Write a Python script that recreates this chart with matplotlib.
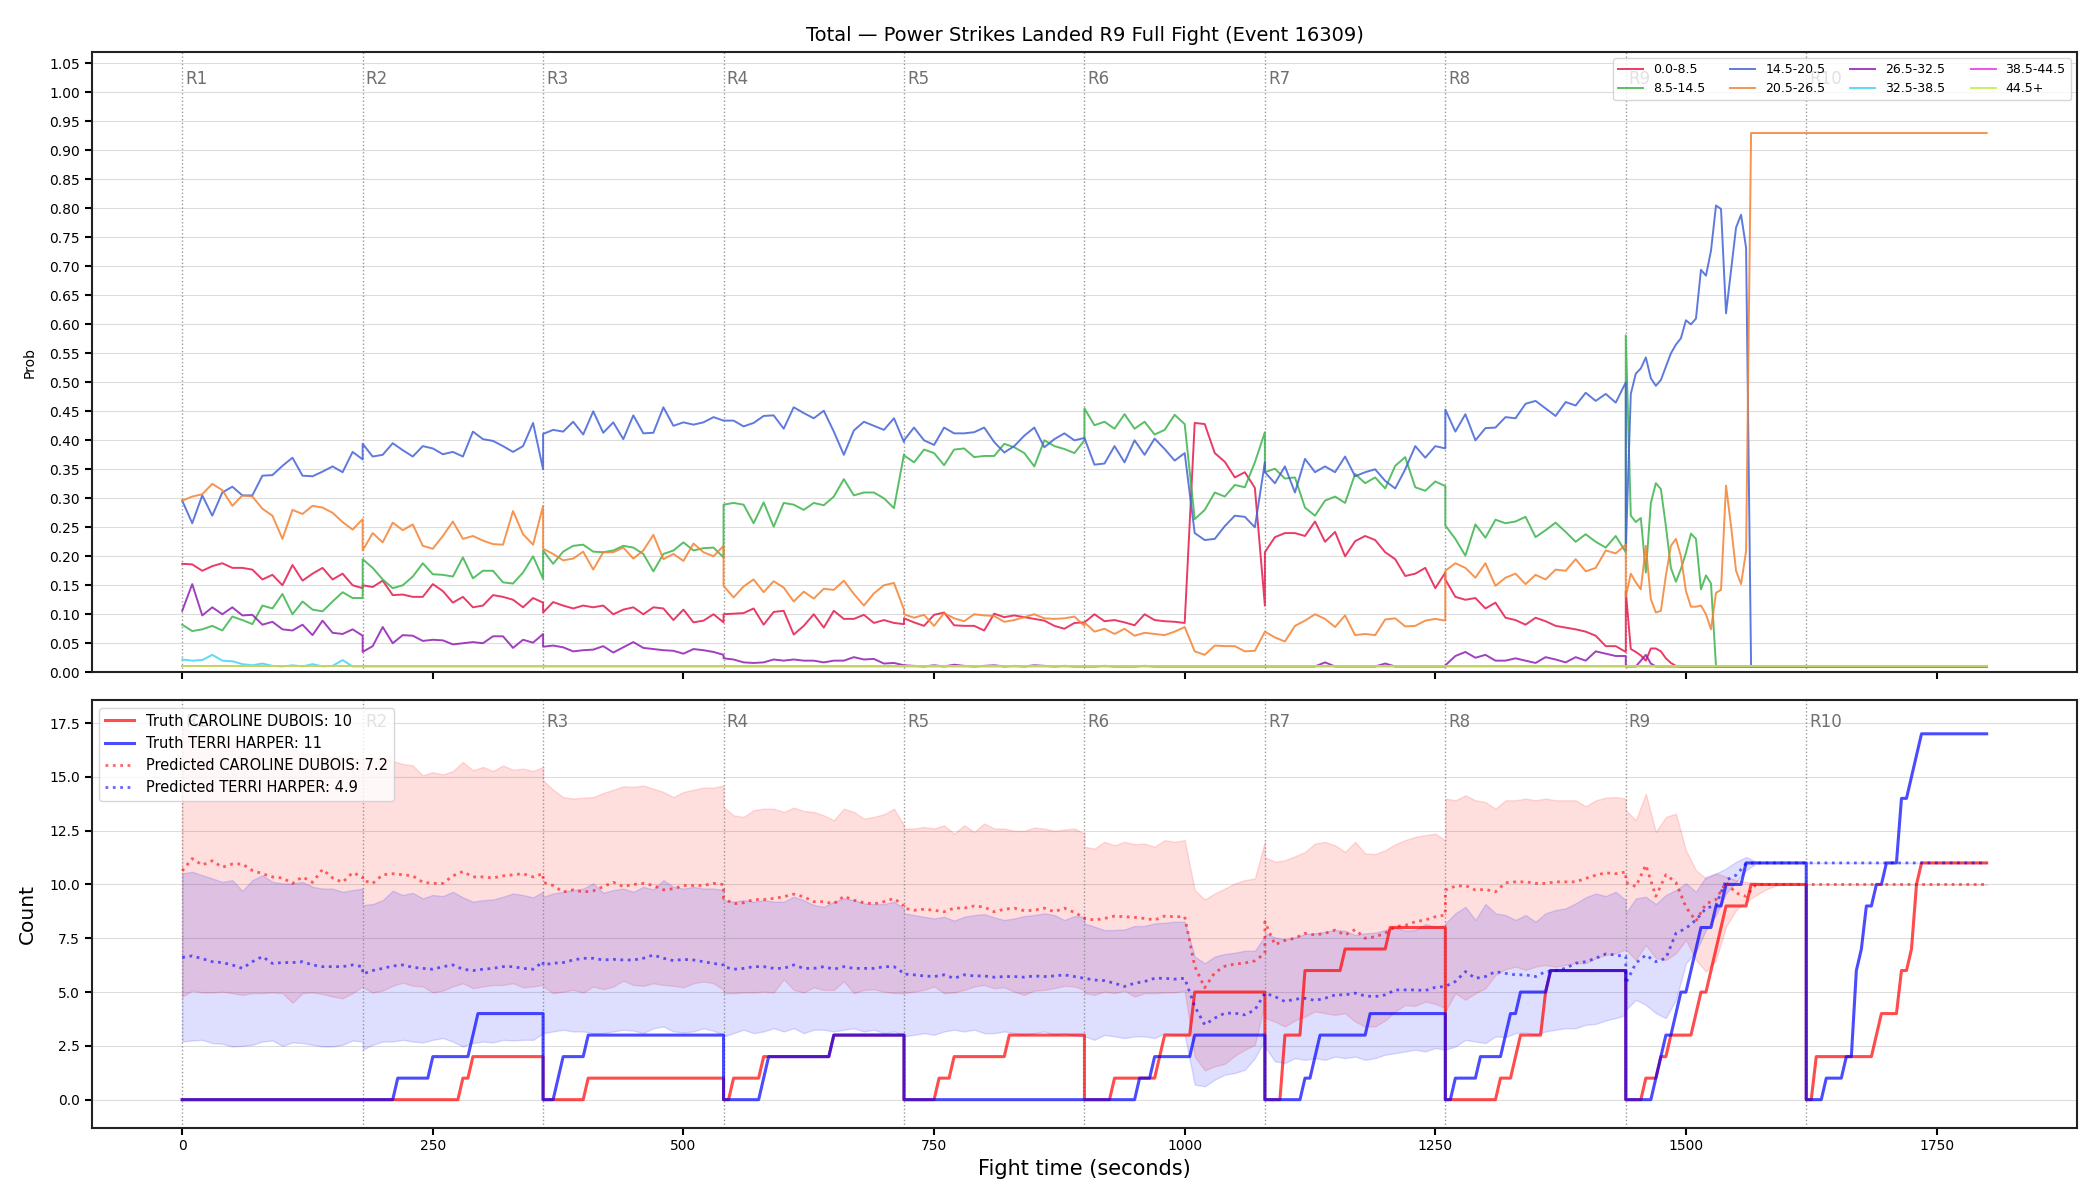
import numpy as np
import matplotlib
matplotlib.use("Agg")
import matplotlib.pyplot as plt
from matplotlib.ticker import MultipleLocator

ROUND_LEN = 180
N_ROUNDS = 10
FIGHT_END = 1800
STEP = 10      # the per-round lists below are read every 10 s
R9_STEP = 5    # round 9 of the top panel is read every 5 s

TITLE = "Total \u2014 Power Strikes Landed R9 Full Fight (Event 16309)"
BUCKETS = ["0.0-8.5", "8.5-14.5", "14.5-20.5", "20.5-26.5",
           "26.5-32.5", "32.5-38.5", "38.5-44.5", "44.5+"]
BUCKET_COLORS = ["#e6194b", "#3cb44b", "#4363d8", "#f58231",
                 "#911eb4", "#42d4f4", "#f032e6", "#bfef45"]
PROB_FLOOR = 0.01

# ---- top panel: probability per bucket, rounds 1-8 (19 samples each) ----
prob_0_8 = [
    [0.187, 0.186, 0.175, 0.183, 0.188, 0.180, 0.180, 0.177, 0.160, 0.168, 0.150, 0.185, 0.158, 0.170, 0.180, 0.160, 0.170, 0.150, 0.145],
    [0.150, 0.147, 0.158, 0.133, 0.134, 0.130, 0.130, 0.152, 0.140, 0.120, 0.130, 0.112, 0.115, 0.133, 0.130, 0.125, 0.112, 0.128, 0.120],
    [0.103, 0.121, 0.115, 0.110, 0.115, 0.112, 0.115, 0.100, 0.108, 0.112, 0.100, 0.112, 0.110, 0.090, 0.108, 0.086, 0.089, 0.100, 0.086],
    [0.100, 0.101, 0.102, 0.110, 0.082, 0.104, 0.106, 0.065, 0.080, 0.100, 0.077, 0.106, 0.092, 0.092, 0.099, 0.085, 0.090, 0.085, 0.083],
    [0.093, 0.086, 0.080, 0.099, 0.103, 0.081, 0.080, 0.080, 0.072, 0.101, 0.095, 0.098, 0.095, 0.092, 0.089, 0.080, 0.075, 0.085, 0.086],
    [0.086, 0.100, 0.088, 0.090, 0.086, 0.081, 0.100, 0.090, 0.088, 0.087, 0.085, 0.430, 0.428, 0.378, 0.363, 0.336, 0.345, 0.318, 0.115],
    [0.207, 0.233, 0.240, 0.240, 0.235, 0.260, 0.225, 0.242, 0.200, 0.226, 0.235, 0.228, 0.207, 0.195, 0.166, 0.170, 0.180, 0.145, 0.172],
    [0.160, 0.130, 0.125, 0.128, 0.110, 0.120, 0.094, 0.090, 0.082, 0.094, 0.088, 0.080, 0.077, 0.074, 0.070, 0.063, 0.045, 0.045, 0.035],
]
prob_8_14 = [
    [0.082, 0.071, 0.074, 0.080, 0.072, 0.096, 0.090, 0.083, 0.115, 0.110, 0.135, 0.100, 0.122, 0.108, 0.105, 0.122, 0.138, 0.128, 0.128],
    [0.195, 0.180, 0.160, 0.145, 0.150, 0.165, 0.188, 0.169, 0.168, 0.165, 0.198, 0.162, 0.175, 0.175, 0.155, 0.153, 0.172, 0.200, 0.161],
    [0.210, 0.187, 0.208, 0.218, 0.220, 0.208, 0.207, 0.210, 0.218, 0.215, 0.204, 0.174, 0.204, 0.210, 0.224, 0.210, 0.214, 0.215, 0.198],
    [0.289, 0.292, 0.289, 0.257, 0.293, 0.251, 0.292, 0.289, 0.280, 0.292, 0.288, 0.303, 0.333, 0.305, 0.310, 0.310, 0.300, 0.283, 0.376],
    [0.374, 0.362, 0.384, 0.378, 0.357, 0.384, 0.386, 0.371, 0.373, 0.373, 0.394, 0.388, 0.378, 0.355, 0.400, 0.390, 0.385, 0.378, 0.400],
    [0.455, 0.426, 0.432, 0.420, 0.445, 0.420, 0.432, 0.410, 0.418, 0.444, 0.428, 0.264, 0.280, 0.310, 0.303, 0.323, 0.319, 0.362, 0.414],
    [0.345, 0.351, 0.334, 0.336, 0.284, 0.270, 0.296, 0.303, 0.292, 0.342, 0.326, 0.336, 0.317, 0.356, 0.371, 0.319, 0.313, 0.329, 0.321],
    [0.253, 0.230, 0.201, 0.255, 0.232, 0.263, 0.257, 0.260, 0.268, 0.233, 0.245, 0.258, 0.242, 0.225, 0.238, 0.225, 0.215, 0.235, 0.207],
]
prob_14_20 = [
    [0.296, 0.257, 0.305, 0.270, 0.310, 0.320, 0.305, 0.305, 0.339, 0.340, 0.356, 0.370, 0.339, 0.338, 0.346, 0.355, 0.345, 0.380, 0.367],
    [0.394, 0.372, 0.375, 0.395, 0.383, 0.372, 0.390, 0.386, 0.376, 0.380, 0.372, 0.415, 0.402, 0.399, 0.390, 0.380, 0.390, 0.430, 0.350],
    [0.411, 0.418, 0.415, 0.432, 0.410, 0.450, 0.413, 0.431, 0.402, 0.443, 0.412, 0.413, 0.457, 0.425, 0.431, 0.427, 0.431, 0.440, 0.434],
    [0.434, 0.434, 0.424, 0.430, 0.442, 0.443, 0.420, 0.457, 0.447, 0.438, 0.451, 0.415, 0.375, 0.417, 0.432, 0.425, 0.418, 0.438, 0.397],
    [0.400, 0.422, 0.400, 0.392, 0.422, 0.412, 0.412, 0.414, 0.422, 0.397, 0.379, 0.390, 0.408, 0.422, 0.388, 0.402, 0.412, 0.400, 0.404],
    [0.404, 0.358, 0.360, 0.390, 0.362, 0.400, 0.375, 0.403, 0.385, 0.365, 0.378, 0.240, 0.228, 0.230, 0.252, 0.270, 0.268, 0.250, 0.362],
    [0.345, 0.326, 0.355, 0.310, 0.368, 0.345, 0.355, 0.345, 0.372, 0.338, 0.345, 0.350, 0.330, 0.317, 0.350, 0.390, 0.370, 0.390, 0.386],
    [0.453, 0.415, 0.445, 0.400, 0.421, 0.422, 0.440, 0.438, 0.463, 0.468, 0.455, 0.442, 0.466, 0.460, 0.482, 0.468, 0.480, 0.465, 0.500],
]
prob_20_26 = [
    [0.296, 0.303, 0.307, 0.325, 0.314, 0.287, 0.305, 0.303, 0.282, 0.270, 0.230, 0.280, 0.273, 0.287, 0.284, 0.275, 0.259, 0.246, 0.264],
    [0.210, 0.240, 0.224, 0.258, 0.245, 0.255, 0.218, 0.213, 0.235, 0.260, 0.230, 0.235, 0.227, 0.221, 0.220, 0.278, 0.238, 0.220, 0.287],
    [0.213, 0.204, 0.193, 0.196, 0.208, 0.177, 0.207, 0.207, 0.215, 0.196, 0.210, 0.237, 0.195, 0.204, 0.192, 0.222, 0.207, 0.200, 0.218],
    [0.149, 0.129, 0.148, 0.160, 0.138, 0.157, 0.146, 0.122, 0.139, 0.127, 0.144, 0.142, 0.158, 0.135, 0.115, 0.136, 0.150, 0.154, 0.108],
    [0.100, 0.094, 0.099, 0.080, 0.102, 0.093, 0.088, 0.100, 0.098, 0.097, 0.087, 0.090, 0.095, 0.100, 0.093, 0.092, 0.093, 0.096, 0.080],
    [0.086, 0.070, 0.075, 0.066, 0.075, 0.063, 0.068, 0.066, 0.064, 0.070, 0.078, 0.036, 0.030, 0.046, 0.045, 0.045, 0.036, 0.037, 0.070],
    [0.070, 0.060, 0.053, 0.080, 0.089, 0.100, 0.092, 0.078, 0.098, 0.064, 0.066, 0.064, 0.091, 0.093, 0.079, 0.080, 0.089, 0.092, 0.089],
    [0.175, 0.188, 0.180, 0.163, 0.188, 0.149, 0.163, 0.170, 0.152, 0.168, 0.160, 0.177, 0.175, 0.195, 0.174, 0.180, 0.210, 0.205, 0.220],
]
prob_26_32 = [
    [0.106, 0.152, 0.098, 0.112, 0.100, 0.112, 0.098, 0.099, 0.082, 0.087, 0.074, 0.072, 0.082, 0.064, 0.089, 0.068, 0.066, 0.074, 0.063],
    [0.035, 0.045, 0.078, 0.050, 0.064, 0.063, 0.054, 0.056, 0.055, 0.048, 0.050, 0.052, 0.050, 0.062, 0.062, 0.042, 0.056, 0.051, 0.066],
    [0.044, 0.046, 0.043, 0.036, 0.038, 0.039, 0.045, 0.034, 0.043, 0.052, 0.042, 0.040, 0.038, 0.037, 0.032, 0.040, 0.038, 0.035, 0.030],
    [0.024, 0.022, 0.017, 0.016, 0.017, 0.022, 0.020, 0.022, 0.020, 0.020, 0.017, 0.020, 0.020, 0.026, 0.022, 0.023, 0.015, 0.016, 0.012],
    [0.012, 0.011, 0.010, 0.012, 0.010, 0.013, 0.011, 0.010, 0.011, 0.012, 0.010, 0.011, 0.010, 0.012, 0.011, 0.010, 0.011, 0.010, 0.010],
    [0.010, 0.010, 0.011, 0.010, 0.010, 0.010, 0.011, 0.010, 0.010, 0.010, 0.010, 0.010, 0.010, 0.010, 0.010, 0.010, 0.010, 0.010, 0.010],
    [0.010, 0.010, 0.010, 0.010, 0.010, 0.010, 0.017, 0.010, 0.010, 0.010, 0.010, 0.010, 0.015, 0.010, 0.010, 0.010, 0.010, 0.010, 0.010],
    [0.012, 0.028, 0.035, 0.025, 0.030, 0.020, 0.020, 0.024, 0.020, 0.016, 0.026, 0.022, 0.017, 0.026, 0.020, 0.036, 0.032, 0.028, 0.028],
]
prob_32_38_r1 = [0.022, 0.020, 0.021, 0.030, 0.020, 0.019, 0.014, 0.012, 0.015, 0.011,
                 0.010, 0.012, 0.010, 0.014, 0.010, 0.011, 0.021, 0.010, 0.010]

# round 9, every 5 s, until the distribution collapses onto 20.5-26.5
prob_0_8_r9 = [0.140, 0.040, 0.035, 0.029, 0.020, 0.041, 0.041, 0.036, 0.024, 0.016, 0.011, 0.010, 0.010,
               0.010, 0.010, 0.010, 0.010, 0.010, 0.010, 0.010, 0.010, 0.010, 0.010, 0.010, 0.010, 0.010]
prob_8_14_r9 = [0.581, 0.270, 0.259, 0.266, 0.172, 0.292, 0.326, 0.316, 0.252, 0.180, 0.156, 0.178, 0.206,
                0.239, 0.230, 0.143, 0.167, 0.153, 0.010, 0.010, 0.010, 0.010, 0.010, 0.010, 0.010, 0.010]
prob_14_20_r9 = [0.210, 0.480, 0.515, 0.524, 0.543, 0.507, 0.494, 0.504, 0.527, 0.550, 0.565, 0.576, 0.607,
                 0.600, 0.610, 0.694, 0.684, 0.727, 0.805, 0.799, 0.619, 0.693, 0.767, 0.789, 0.732, 0.010]
prob_20_26_r9 = [0.130, 0.170, 0.155, 0.143, 0.218, 0.126, 0.103, 0.106, 0.167, 0.218, 0.230, 0.200, 0.140,
                 0.113, 0.113, 0.115, 0.100, 0.074, 0.137, 0.142, 0.322, 0.252, 0.175, 0.152, 0.209, 0.930]
prob_26_32_r9 = [0.010, 0.010, 0.010, 0.020, 0.030, 0.015, 0.010, 0.010, 0.010, 0.010, 0.010, 0.010, 0.010,
                 0.010, 0.010, 0.010, 0.010, 0.010, 0.010, 0.010, 0.010, 0.010, 0.010, 0.010, 0.010, 0.010]

# ---- bottom panel ----
FIGHTERS = ["CAROLINE DUBOIS", "TERRI HARPER"]
TRUTH_TOTALS = [10, 11]
PRED_TOTALS = [7.2, 4.9]

# strike times (s); counts restart every round
strikes_dubois = [280, 290, 405, 550, 580, 650, 755, 770, 825,
                  930, 975, 980, 1010, 1010,
                  1100, 1100, 1100, 1120, 1120, 1120, 1160, 1205,
                  1315, 1330, 1335, 1360, 1360, 1365,
                  1460, 1475, 1485, 1510, 1515, 1525, 1530, 1535, 1540, 1565,
                  1630, 1630, 1690, 1695, 1715, 1715, 1725, 1730, 1730, 1730, 1735]
strikes_harper = [215, 250, 290, 295, 375, 380, 405, 580, 585, 650,
                  955, 970, 1010, 1120, 1130, 1135, 1185,
                  1270, 1295, 1320, 1325, 1335, 1365,
                  1470, 1475, 1480, 1490, 1495, 1505, 1510, 1515, 1530, 1540, 1560,
                  1640, 1660, 1670, 1670, 1670, 1670, 1675, 1680, 1680, 1690, 1700,
                  1715, 1715, 1715, 1725, 1730, 1735]

# predicted count and band, rounds 1-9 (19 samples each, 10 s apart)
pred_dubois = [
    [10.63, 11.20, 10.90, 11.10, 10.80, 10.95, 10.95, 10.65, 10.50, 10.35, 10.30, 10.05, 10.35, 10.10, 10.70, 10.30, 10.10, 10.55, 10.35],
    [10.20, 10.05, 10.45, 10.50, 10.45, 10.40, 10.10, 10.05, 10.05, 10.40, 10.60, 10.35, 10.35, 10.30, 10.40, 10.45, 10.50, 10.35, 10.50],
    [10.10, 9.95, 9.65, 9.75, 9.65, 9.70, 9.90, 10.10, 9.90, 10.00, 10.05, 9.95, 9.75, 9.80, 9.95, 9.95, 9.95, 10.05, 10.00],
    [9.35, 9.10, 9.15, 9.30, 9.30, 9.35, 9.43, 9.55, 9.43, 9.20, 9.20, 9.10, 9.45, 9.27, 9.15, 9.10, 9.20, 9.35, 9.00],
    [8.90, 8.80, 8.85, 8.80, 8.73, 8.90, 8.90, 9.00, 8.95, 8.73, 8.85, 8.90, 8.78, 8.80, 8.90, 8.73, 8.90, 8.70, 8.45],
    [8.42, 8.35, 8.42, 8.53, 8.50, 8.47, 8.42, 8.35, 8.53, 8.50, 8.50, 6.20, 5.20, 5.90, 6.20, 6.30, 6.35, 6.45, 6.80],
    [8.27, 7.20, 7.40, 7.50, 7.73, 7.65, 7.73, 7.88, 7.65, 7.90, 7.50, 7.57, 7.73, 8.04, 8.10, 8.27, 8.35, 8.50, 8.58],
    [9.74, 9.92, 9.95, 9.74, 9.77, 9.66, 10.08, 10.12, 10.12, 10.05, 10.05, 10.12, 10.12, 10.12, 10.28, 10.43, 10.54, 10.50, 10.58],
    [10.10, 9.90, 10.90, 9.45, 10.45, 10.10, 8.95, 8.30, 9.10, 9.30, 10.10, 9.60, 9.45, 10.00, 10.00, 10.00, 10.00, 10.00, 10.00],
]
pred_harper = [
    [6.61, 6.68, 6.55, 6.41, 6.37, 6.26, 6.10, 6.41, 6.65, 6.33, 6.37, 6.37, 6.41, 6.26, 6.18, 6.18, 6.18, 6.26, 6.18],
    [5.84, 6.00, 6.10, 6.21, 6.26, 6.15, 6.10, 6.06, 6.18, 6.26, 6.06, 6.00, 6.06, 6.10, 6.18, 6.18, 6.10, 6.06, 6.41],
    [6.26, 6.34, 6.37, 6.49, 6.57, 6.57, 6.49, 6.52, 6.49, 6.49, 6.57, 6.72, 6.57, 6.46, 6.52, 6.49, 6.41, 6.33, 6.26],
    [6.18, 6.06, 6.10, 6.18, 6.18, 6.10, 6.10, 6.26, 6.10, 6.10, 6.18, 6.06, 6.18, 6.10, 6.10, 6.10, 6.18, 6.18, 5.87],
    [5.84, 5.80, 5.75, 5.72, 5.80, 5.64, 5.80, 5.75, 5.75, 5.69, 5.72, 5.72, 5.69, 5.75, 5.72, 5.75, 5.80, 5.72, 5.64],
    [5.64, 5.56, 5.53, 5.41, 5.26, 5.41, 5.49, 5.64, 5.64, 5.60, 5.64, 4.33, 3.48, 3.79, 4.02, 4.02, 3.94, 4.17, 4.95],
    [4.95, 4.79, 4.56, 4.67, 4.71, 4.61, 4.71, 4.87, 4.87, 4.95, 4.82, 4.79, 4.87, 5.10, 5.10, 5.10, 5.07, 5.22, 5.26],
    [5.26, 5.49, 5.95, 5.64, 5.72, 5.95, 5.87, 5.80, 5.80, 5.72, 5.95, 6.00, 6.10, 6.34, 6.41, 6.57, 6.77, 6.72, 6.65],
    [5.40, 6.34, 6.72, 6.41, 6.57, 7.73, 7.96, 8.35, 8.89, 9.04, 10.20, 10.43, 10.97, 11.00, 11.00, 11.00, 11.00, 11.00, 11.00],
]
band_dubois_hi = [
    [17.30, 17.10, 16.90, 16.80, 16.70, 16.60, 16.50, 16.50, 16.40, 16.30, 16.20, 16.30, 16.10, 16.00, 16.10, 15.90, 16.00, 15.90, 15.80],
    [15.90, 15.90, 15.85, 15.73, 15.60, 15.53, 15.07, 15.22, 15.11, 15.27, 15.69, 15.30, 15.46, 15.27, 15.53, 15.33, 15.38, 15.27, 15.46],
    [14.84, 14.40, 14.06, 13.99, 14.03, 14.06, 14.25, 14.40, 14.56, 14.53, 14.60, 14.45, 14.30, 14.06, 14.30, 14.40, 14.50, 14.50, 14.60],
    [13.60, 13.21, 13.14, 13.45, 13.52, 13.52, 13.37, 13.57, 13.42, 13.37, 13.21, 12.98, 13.52, 13.37, 13.06, 13.14, 13.26, 13.52, 12.75],
    [12.60, 12.60, 12.67, 12.60, 12.75, 12.36, 12.75, 12.44, 12.83, 12.60, 12.60, 12.49, 12.49, 12.64, 12.60, 12.49, 12.55, 12.60, 12.36],
    [11.75, 11.67, 11.98, 11.82, 11.98, 11.87, 11.90, 11.75, 12.06, 11.98, 12.06, 9.74, 9.30, 9.58, 9.81, 10.05, 10.20, 10.28, 12.00],
    [11.28, 11.05, 11.13, 11.31, 11.51, 11.90, 11.98, 11.82, 11.51, 11.98, 11.44, 11.41, 11.59, 11.87, 12.06, 12.21, 12.29, 12.36, 12.06],
    [13.99, 13.91, 14.14, 13.91, 13.83, 13.52, 13.91, 13.91, 13.99, 13.91, 13.99, 13.91, 13.91, 13.91, 13.63, 13.91, 14.03, 14.06, 13.99],
    [13.45, 12.98, 14.22, 12.44, 13.14, 13.29, 11.59, 10.66, 10.28, 10.51, 10.36, 10.20, 10.12, 10.08, 10.02, 10.00, 10.00, 10.00, 10.00],
]
band_dubois_lo = [
    [4.79, 5.07, 4.98, 4.98, 5.02, 4.95, 4.87, 4.95, 4.95, 4.98, 4.95, 4.50, 4.95, 4.98, 4.91, 4.79, 4.71, 4.95, 5.26],
    [5.22, 4.98, 5.07, 5.29, 5.44, 5.29, 5.26, 4.98, 5.07, 5.26, 5.41, 5.18, 5.26, 5.33, 5.33, 5.41, 5.22, 5.26, 5.33],
    [5.26, 4.95, 5.02, 5.10, 4.98, 5.26, 5.13, 5.26, 5.53, 5.33, 5.29, 5.41, 5.33, 5.29, 5.22, 5.41, 5.49, 5.41, 5.10],
    [4.95, 4.95, 4.98, 4.98, 5.02, 4.98, 5.60, 5.10, 4.98, 5.22, 5.10, 5.10, 5.50, 4.95, 5.10, 5.13, 5.02, 4.95, 4.95],
    [4.95, 5.02, 5.10, 5.26, 4.95, 4.98, 5.10, 5.26, 5.33, 5.18, 5.22, 5.02, 4.87, 5.07, 5.10, 5.18, 5.29, 5.26, 5.10],
    [4.95, 4.87, 5.02, 4.95, 5.07, 4.79, 4.95, 4.95, 4.98, 4.98, 5.07, 2.00, 1.36, 1.55, 1.67, 2.04, 2.32, 2.55, 4.50],
    [3.80, 3.63, 3.40, 3.68, 3.86, 4.10, 4.02, 3.94, 4.02, 3.63, 3.40, 3.40, 3.68, 4.10, 4.40, 4.36, 4.56, 4.45, 4.25],
    [4.10, 4.95, 4.64, 4.95, 5.18, 5.80, 6.06, 6.18, 6.03, 6.18, 6.26, 6.18, 6.26, 6.34, 6.34, 6.57, 6.72, 6.80, 6.99],
    [6.99, 6.49, 7.19, 6.57, 6.49, 6.80, 7.42, 6.49, 5.95, 6.49, 8.04, 8.81, 9.20, 9.50, 9.77, 9.95, 10.00, 10.00, 10.00],
]
band_harper_hi = [
    [10.51, 10.59, 10.43, 10.28, 10.12, 10.20, 9.70, 10.20, 10.43, 10.12, 10.05, 10.05, 10.12, 9.89, 9.81, 9.81, 9.66, 9.74, 9.81],
    [9.04, 9.09, 9.27, 9.71, 9.51, 9.61, 9.35, 9.51, 9.46, 9.66, 9.40, 9.20, 9.27, 9.30, 9.43, 9.58, 9.51, 9.40, 9.66],
    [9.43, 9.58, 9.66, 9.74, 9.81, 10.05, 9.61, 9.74, 9.81, 9.66, 9.89, 9.77, 10.20, 9.89, 9.81, 9.89, 9.81, 9.81, 9.74],
    [9.27, 9.20, 9.27, 9.20, 9.27, 9.20, 9.20, 9.43, 9.27, 9.04, 8.96, 9.20, 9.35, 9.27, 9.12, 9.09, 9.09, 9.20, 8.89],
    [8.66, 8.58, 8.50, 8.42, 8.50, 8.32, 8.50, 8.58, 8.62, 8.47, 8.35, 8.42, 8.53, 8.58, 8.66, 8.58, 8.35, 8.53, 8.50],
    [8.19, 8.04, 7.88, 7.88, 7.91, 8.07, 8.07, 8.19, 8.22, 8.27, 8.27, 6.65, 6.34, 6.65, 6.77, 6.83, 6.92, 6.92, 7.60],
    [7.73, 7.54, 7.45, 7.54, 7.70, 7.73, 7.80, 7.88, 7.85, 7.65, 7.73, 7.76, 7.88, 8.00, 7.85, 7.88, 8.16, 8.04, 8.10],
    [8.19, 8.66, 8.96, 8.35, 9.09, 8.66, 8.58, 8.35, 8.58, 8.27, 8.66, 8.81, 8.89, 9.12, 9.40, 9.58, 9.46, 9.66, 9.27],
    [8.66, 9.35, 9.43, 9.09, 9.51, 9.74, 10.05, 9.66, 10.36, 10.51, 10.74, 11.05, 11.28, 11.05, 11.00, 11.00, 11.00, 11.00, 11.00],
]
band_harper_lo = [
    [2.70, 2.75, 2.78, 2.63, 2.60, 2.47, 2.50, 2.55, 2.70, 2.75, 2.50, 2.66, 2.63, 2.55, 2.47, 2.47, 2.55, 2.75, 2.70],
    [2.32, 2.55, 2.70, 2.70, 2.78, 2.70, 2.66, 2.78, 2.86, 2.70, 2.47, 2.63, 2.70, 2.66, 2.78, 2.75, 2.78, 2.78, 3.09],
    [3.09, 3.17, 3.25, 3.17, 3.17, 3.09, 3.09, 3.17, 3.25, 3.21, 3.09, 3.32, 3.40, 3.17, 3.12, 3.17, 3.32, 3.20, 3.01],
    [2.94, 3.09, 3.25, 3.09, 3.17, 3.32, 3.17, 3.32, 3.09, 3.25, 3.25, 3.17, 3.25, 3.32, 3.17, 3.25, 3.09, 3.17, 3.01],
    [2.94, 3.01, 3.09, 3.01, 3.17, 3.25, 3.17, 3.25, 3.09, 3.09, 3.17, 3.09, 3.01, 3.09, 3.17, 3.01, 3.09, 2.97, 2.94],
    [2.94, 2.78, 3.01, 2.94, 2.86, 2.94, 2.94, 2.86, 3.09, 3.01, 3.01, 0.70, 0.62, 0.93, 1.16, 1.24, 1.39, 1.93, 2.78],
    [2.47, 1.78, 1.70, 1.93, 1.85, 1.93, 1.85, 2.00, 1.93, 2.00, 1.85, 1.93, 2.09, 2.16, 2.24, 2.32, 2.24, 2.40, 2.32],
    [2.32, 2.47, 2.78, 2.70, 2.63, 2.94, 2.91, 3.09, 3.12, 3.01, 3.17, 3.25, 3.32, 3.32, 3.48, 3.52, 3.68, 3.79, 3.94],
    [4.17, 4.64, 4.40, 4.02, 3.79, 4.64, 6.34, 6.88, 7.88, 8.58, 9.58, 10.12, 10.66, 10.97, 11.00, 11.00, 11.00, 11.00, 11.00],
]


def round_times(r, step=STEP):
    return r * ROUND_LEN + np.arange(0, ROUND_LEN + 1, step)


def stitch(rounds, r9=None):
    # concatenate the per-round samples, then hold the last value to the end
    ts = [round_times(r) for r in range(len(rounds))]
    vs = [np.asarray(v, float) for v in rounds]
    if r9 is not None:
        ts.append(len(rounds) * ROUND_LEN + np.arange(len(r9)) * R9_STEP)
        vs.append(np.asarray(r9, float))
    t = np.concatenate(ts)
    v = np.concatenate(vs)
    return np.append(t, FIGHT_END), np.append(v, v[-1])


def truth_counts(strikes):
    strikes = np.sort(np.asarray(strikes))
    ts, vs = [], []
    for r in range(N_ROUNDS):
        t = round_times(r, 5)
        start = r * ROUND_LEN
        s = strikes[(strikes > start) & (strikes <= start + ROUND_LEN)]
        ts.append(t)
        vs.append(np.searchsorted(s, t, side="right"))
    return np.concatenate(ts), np.concatenate(vs)


fig = plt.figure(figsize=(21, 12), dpi=100)
ax1 = fig.add_axes([0.0438, 0.4398, 0.9452, 0.517])
ax2 = fig.add_axes([0.0438, 0.0603, 0.9452, 0.356], sharex=ax1)

# top panel
top_series = [
    stitch(prob_0_8, prob_0_8_r9),
    stitch(prob_8_14, prob_8_14_r9),
    stitch(prob_14_20, prob_14_20_r9),
    stitch(prob_20_26, prob_20_26_r9),
    stitch(prob_26_32, prob_26_32_r9),
    stitch([prob_32_38_r1]),
    (np.array([0, FIGHT_END]), np.array([PROB_FLOOR, PROB_FLOOR])),
    (np.array([0, FIGHT_END]), np.array([PROB_FLOOR, PROB_FLOOR])),
]
for (t, v), name, col in zip(top_series, BUCKETS, BUCKET_COLORS):
    ax1.plot(t, v, color=col, lw=1.4, alpha=0.85, label=name)

ax1.set_ylim(0, 1.07)
ax1.yaxis.set_major_locator(MultipleLocator(0.05))
ax1.set_ylabel("Prob", fontsize=10, labelpad=9)
ax1.set_title(TITLE, fontsize=14, pad=8)
ax1.legend(loc="upper right", ncol=4, fontsize=9)
ax1.tick_params(labelbottom=False)

# bottom panel
for hi, lo, col in [(band_dubois_hi, band_dubois_lo, "red"), (band_harper_hi, band_harper_lo, "blue")]:
    t, h = stitch(hi)
    _, l = stitch(lo)
    ax2.fill_between(t, l, h, color=col, alpha=0.13)

for strikes, col, name, tot in zip([strikes_dubois, strikes_harper], ["red", "blue"], FIGHTERS, TRUTH_TOTALS):
    t, c = truth_counts(strikes)
    ax2.plot(t, c, color=col, lw=2.2, alpha=0.7, label=f"Truth {name}: {tot}")
for pred, col, name, tot in zip([pred_dubois, pred_harper], ["red", "blue"], FIGHTERS, PRED_TOTALS):
    t, p = stitch(pred)
    ax2.plot(t, p, color=col, lw=2, ls=":", alpha=0.6, label=f"Predicted {name}: {tot}")

ax2.set_ylim(-1.3, 18.55)
ax2.yaxis.set_major_locator(MultipleLocator(2.5))
ax2.set_ylabel("Count", fontsize=14.5, labelpad=9)
ax2.set_xlabel("Fight time (seconds)", fontsize=15)
ax2.legend(loc="upper left", fontsize=10.5)
ax2.set_xlim(-90, 1890)

for ax in (ax1, ax2):
    ax.grid(axis="y", color="#dddddd", lw=0.8)
    ax.set_axisbelow(True)
    for sp in ax.spines.values():
        sp.set_linewidth(1.5)
        sp.set_color("#222222")
    ax.tick_params(width=1.5, length=5)
    for r in range(N_ROUNDS):
        x = r * ROUND_LEN
        ax.axvline(x, color="gray", ls=":", lw=1, alpha=0.8, zorder=1)
        ax.text(x + 3, 0.97, f"R{r + 1}", transform=ax.get_xaxis_transform(),
                va="top", ha="left", color="#707070", fontsize=12)

fig.savefig("out.png", dpi=100)
